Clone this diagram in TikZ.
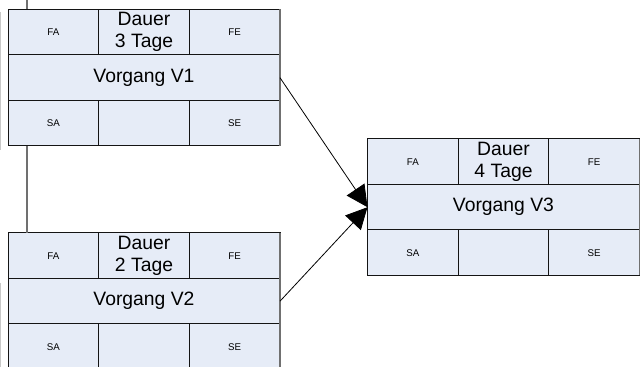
\documentclass[tikz,border=0pt]{standalone}
\usepackage{fontspec}
\setmainfont{Liberation Sans}
\usepackage{tikz}
\usetikzlibrary{positioning}
\usetikzlibrary{arrows.meta}

\definecolor{cellfill}{RGB}{230,236,247}
\definecolor{edgegray}{RGB}{112,112,112}

\tikzset{
  cell/.style={draw={rgb,255:red,20;green,20;blue,20}, line width=0.75pt, fill=cellfill, outer sep=0pt, inner sep=0pt,
    minimum width=68pt, minimum height=34.1pt, align=center},
  midcell/.style={cell, minimum width=204pt},
  kleintext/.style={font=\fontsize{7.3}{8.5}\selectfont},
  grosstext/.style={font=\fontsize{14.5}{16.5}\selectfont},
  pfeil/.style={line width=0.6pt, -{Triangle[length=16pt,width=16pt]}},
  linkline/.style={color=edgegray, line width=0.9pt}
}

% one Vorgang box: name, x, y, Dauer text, Vorgang text
\newcommand{\vorgang}[5]{%
  \node[cell, kleintext, anchor=north west] (#1fa) at (#2,#3) {FA};
  \node[cell, grosstext, right=0pt of #1fa] (#1dauer) {Dauer\\#4};
  \node[cell, kleintext, right=0pt of #1dauer] (#1fe) {FE};
  \node[midcell, grosstext, below=0pt of #1dauer] (#1mid) {#5};
  \node[cell, kleintext, anchor=north west] (#1sa) at (#1mid.south west) {SA};
  \node[cell, right=0pt of #1sa] (#1leer) {};
  \node[cell, kleintext, right=0pt of #1leer] (#1se) {SE};
  %outer right edge
  \draw[color=edgegray, line width=1pt] (#1fe.north east) -- (#1se.south east);
}

\begin{document}
\begin{tikzpicture}[x=0.75pt,y=0.75pt,yscale=-1,xscale=1]
\useasboundingbox (0,0) rectangle (640,367);

%Straight Lines faint edge on the left
\draw [color={rgb, 255:red, 200; green, 200; blue, 200 }, line width=0.6pt] (0.6,12) -- (0.6,150) ;
\draw [color={rgb, 255:red, 200; green, 200; blue, 200 }, line width=0.6pt] (0.6,283) -- (0.6,367) ;

% Boxes
\vorgang{v1}{8}{9.5}{3 Tage}{Vorgang V1}
\vorgang{v2}{8}{233}{2 Tage}{Vorgang V2}
\vorgang{v3}{367.5}{139}{4 Tage}{Vorgang V3}

%Straight Lines [vertical link]
\coordinate (oben) at (27,0);
\draw [linkline] (oben) -- (oben |- v1fa.north) ;
\draw [linkline] (v1sa.south -| oben) -- (v2fa.north -| oben) ;

%Arrows
\draw [pfeil] (v1mid.east) -- (v3mid.west) ;
\draw [pfeil] (v2mid.east) -- (v3mid.west) ;

\end{tikzpicture}
\end{document}
